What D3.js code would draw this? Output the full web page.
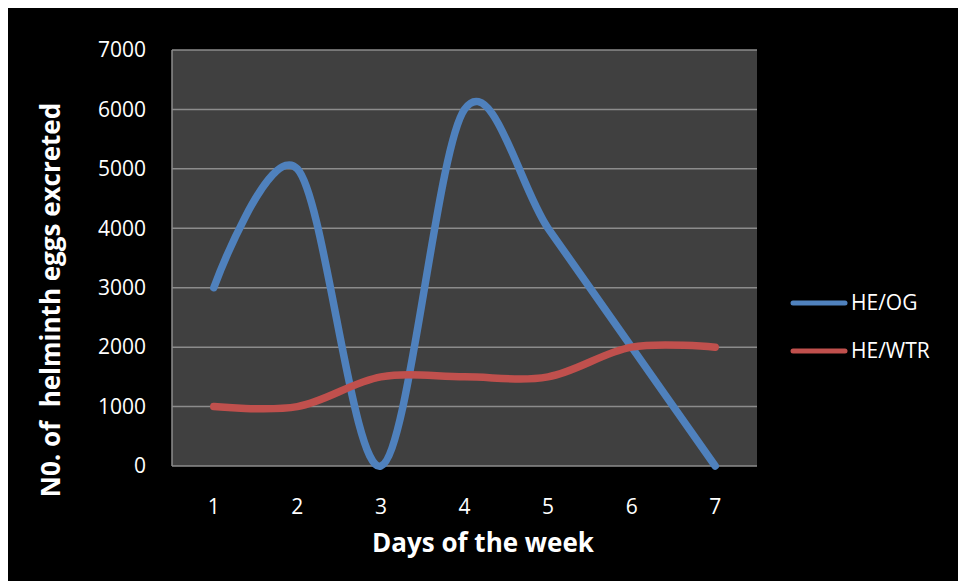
<!DOCTYPE html>
<html>
<head>
<meta charset="utf-8">
<script src="https://cdn.jsdelivr.net/npm/d3@7"></script>
<style>
  html, body { margin: 0; padding: 0; background: #ffffff; }
  svg { display: block; }
  text { font-family: "Open Sans", "Liberation Sans", sans-serif; fill: #ffffff; }
</style>
</head>
<body>
<svg id="chart" width="958" height="581"></svg>
<script>
// Days on the x axis
const days = ["1", "2", "3", "4", "5", "6", "7"];
// Helminth egg counts per day
const heOG = [3000, 5000, 0, 6000, 4000, 2000, 0];
const heWTR = [1000, 1000, 1500, 1500, 1500, 2000, 2000];
const yTicks = [0, 1000, 2000, 3000, 4000, 5000, 6000, 7000];
const seriesNames = ["HE/OG", "HE/WTR"];
const seriesColors = ["#4f81bd", "#c0504d"];

const svg = d3.select("#chart");

// black chart background inside a thin white frame
svg.append("rect")
  .attr("x", 8).attr("y", 8)
  .attr("width", 950).attr("height", 573)
  .attr("fill", "#000000");

const plot = { left: 172, right: 757, top: 50, bottom: 466 };

const x = d3.scaleBand()
  .domain(days)
  .range([plot.left, plot.right]);

const y = d3.scaleLinear()
  .domain([0, 7000])
  .range([plot.bottom, plot.top]);

// plot area
svg.append("rect")
  .attr("x", plot.left).attr("y", plot.top)
  .attr("width", plot.right - plot.left)
  .attr("height", plot.bottom - plot.top)
  .attr("fill", "#404040");

// horizontal gridlines
svg.append("g")
  .selectAll("line")
  .data(yTicks)
  .join("line")
  .attr("x1", plot.left).attr("x2", plot.right)
  .attr("y1", d => y(d)).attr("y2", d => y(d))
  .attr("stroke", "#8c8c8c")
  .attr("stroke-width", 1.5);

// left axis line
svg.append("line")
  .attr("x1", plot.left).attr("x2", plot.left)
  .attr("y1", plot.top).attr("y2", plot.bottom)
  .attr("stroke", "#8c8c8c")
  .attr("stroke-width", 1.5);

// y axis labels
const yAxis = d3.axisLeft(y)
  .tickValues(yTicks)
  .tickFormat(d3.format("d"))
  .tickSize(0)
  .tickPadding(26);
const gy = svg.append("g")
  .attr("transform", `translate(${plot.left},0)`)
  .call(yAxis);
gy.select(".domain").remove();
gy.selectAll("text")
  .attr("font-size", 21)
  .attr("fill", "#ffffff")
  .style("font-family", "'Open Sans', sans-serif");

// x axis labels
const xAxis = d3.axisBottom(x).tickSize(0).tickPadding(33);
const gx = svg.append("g")
  .attr("transform", `translate(0,${plot.bottom})`)
  .call(xAxis);
gx.select(".domain").remove();
gx.selectAll("text")
  .attr("font-size", 21)
  .attr("fill", "#ffffff")
  .style("font-family", "'Open Sans', sans-serif");

// smoothed series lines
const line = d3.line()
  .x((d, i) => x(days[i]) + x.bandwidth() / 2)
  .y(d => y(d))
  .curve(d3.curveCardinal.tension(0));

[heOG, heWTR].forEach((vals, k) => {
  svg.append("path")
    .datum(vals)
    .attr("d", line)
    .attr("fill", "none")
    .attr("stroke", seriesColors[k])
    .attr("stroke-width", 7.5)
    .attr("stroke-linecap", "round")
    .attr("stroke-linejoin", "round");
});

// axis titles
svg.append("text")
  .attr("transform", "translate(60,300) rotate(-90)")
  .attr("text-anchor", "middle")
  .attr("font-size", 26)
  .attr("font-weight", "bold")
  .attr("xml:space", "preserve")
  .style("white-space", "pre")
  .text("N0. of  helminth eggs excreted");

svg.append("text")
  .attr("x", 483).attr("y", 552)
  .attr("text-anchor", "middle")
  .attr("font-size", 26)
  .attr("font-weight", "bold")
  .text("Days of the week");

// legend
const legend = svg.append("g");
seriesNames.forEach((name, k) => {
  const ly = 303 + k * 48;
  legend.append("line")
    .attr("x1", 793).attr("x2", 845)
    .attr("y1", ly).attr("y2", ly)
    .attr("stroke", seriesColors[k])
    .attr("stroke-width", 5)
    .attr("stroke-linecap", "round");
  legend.append("text")
    .attr("x", 851).attr("y", ly)
    .attr("dy", "0.35em")
    .attr("font-size", 21)
    .text(name);
});
</script>
</body>
</html>
